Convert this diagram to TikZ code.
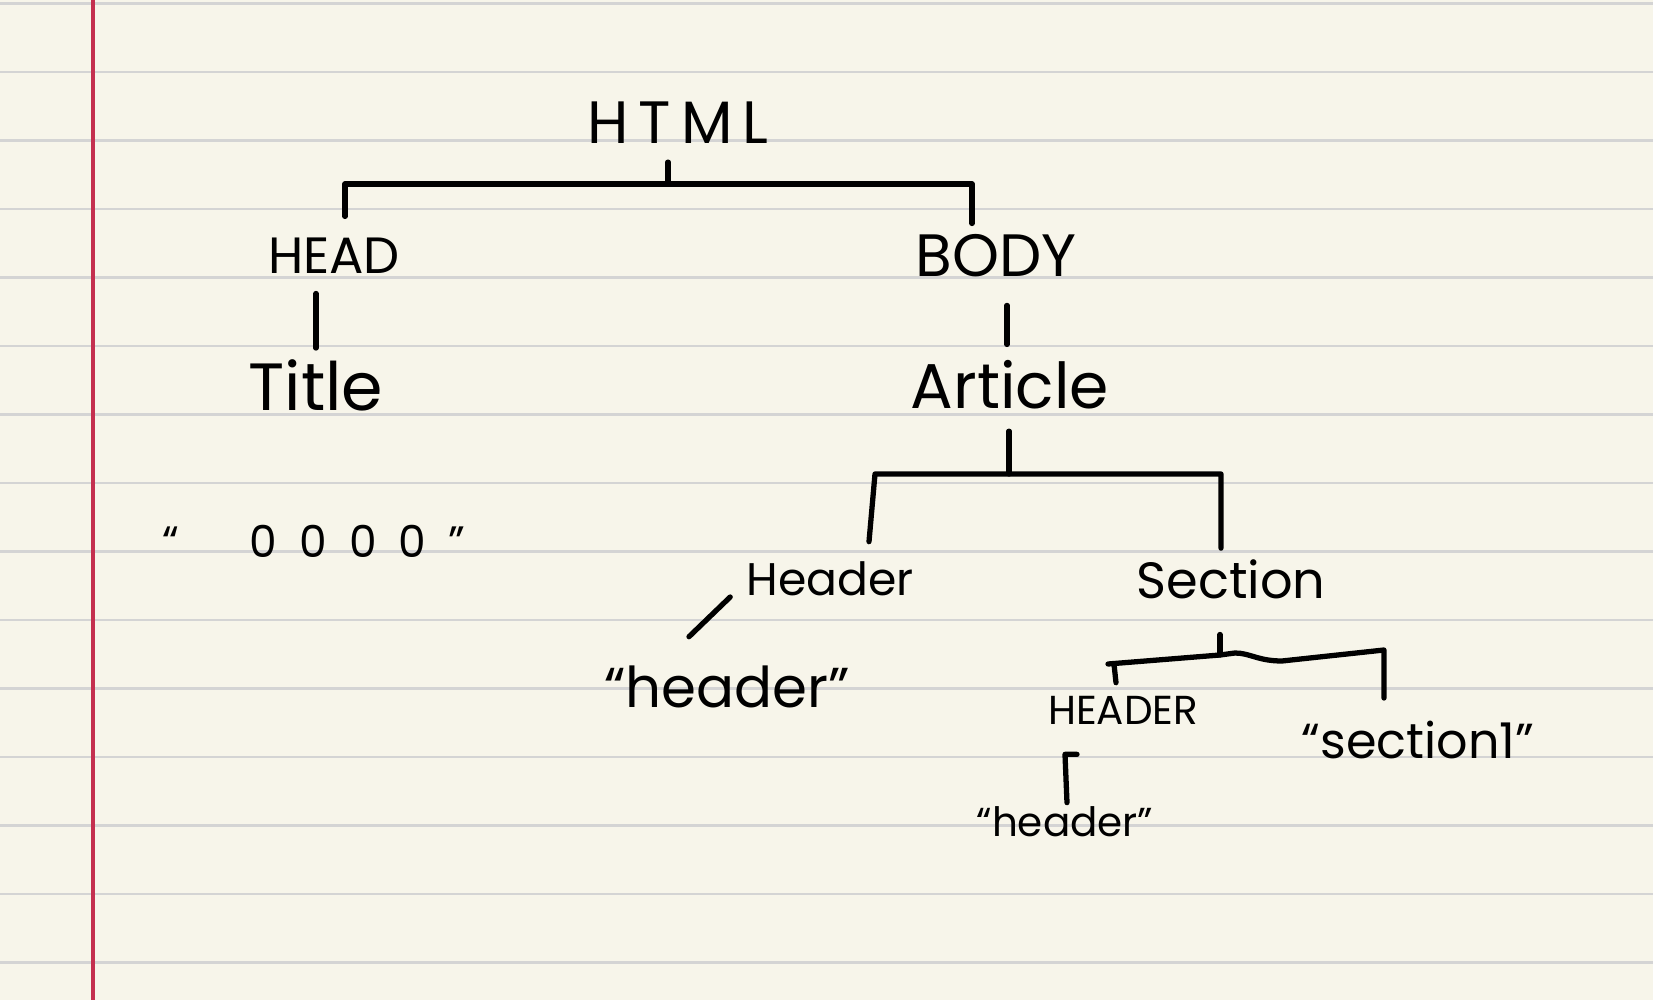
\documentclass[tikz,border=0pt]{standalone}
\usepackage{fontspec}
\setmainfont{Poppins}
\usetikzlibrary{calc}
\definecolor{paper}{HTML}{F7F5EA}
\definecolor{ruling}{HTML}{D4D4D4}
\definecolor{margin}{HTML}{C4304F}
\tikzset{
	tag/.style={font=\fontsize{#1}{#1}\selectfont, inner sep=1pt},
	tag/.default=16,
	link/.style={line width=1.5pt, line cap=round, line join=round},
}

\begin{document}
\begin{tikzpicture}[x=0.01cm,y=-0.01cm]
\useasboundingbox (0,0) rectangle (1653,1000);
%% paper
\fill[paper] (0,0) rectangle (1653,1000);
\foreach \k in {0,...,14}
	\draw[ruling, line width=0.85pt] (0,3.5+68.5*\k) -- (1653,3.5+68.5*\k);
\draw[margin, line width=1pt] (93,0) -- (93,1000);

%% tags
\node[tag=17] (html) at (678,123) {H\,T\,M\,L};
\node[tag=14.5] (head) at (334,256) {HEAD};
\node[tag=17] (body) at (996,256) {BODY};
\node[tag=19] (title) at (316,385) {Title};
\node[tag=18] (article) at (1010,385) {Article};
\node[tag=13] (header) at (830,579) {Header};
\node[tag=14.5] (section) at (1231,579) {Section};
\node[tag=11.5] (headtag) at (1123,710) {HEADER};

%% texts
\node[tag=12.5] (titleval) at (314,541) {“\hspace{1.6em}0\hspace{0.5em}0\hspace{0.5em}0\hspace{0.5em}0\hspace{0.5em}”};
\node[tag=16] (headerval) at (727,687) {“header”};
\node[tag=14] (sectionval) at (1418,740) {“section1”};
\node[tag=11.5] (headtagval) at (1065,822) {“header”};

%% bars
\coordinate (htmlbar) at (668,184);
\coordinate (htmlL) at (345,184);
\coordinate (htmlR) at (972,184);
\coordinate (articlebar) at (1009,474);
\coordinate (articleL) at (875,474);
\coordinate (articleR) at (1221,474);
\coordinate (sectionbar) at (1220,655);
\coordinate (sectionL) at (1114,664);
\coordinate (sectionR) at (1384,650);

\draw[link, shorten <=4pt] (html.south -| htmlbar) -- (htmlbar);
\draw[link, shorten <=5pt, shorten >=2pt] (htmlL |- head.north) -- (htmlL) -- (htmlR) -- (htmlR |- body.north);
\draw[link, shorten <=4.4pt, shorten >=2pt] (head.south -| title) -- (title.north);
\draw[link, shorten <=6.8pt, shorten >=3.4pt] (body.south -| 1007,0) -- (article.north -| 1007,0);

\draw[link, shorten <=5pt] (article.south -| articlebar) -- (articlebar);
\draw[link] ($(articleL |- header.north)+(-6,-16)$) -- (articleL) -- (articleR)
	-- ($(articleR |- section.north)+(0,-7)$);

\draw[link, shorten <=9pt] (section.south -| sectionbar) -- (sectionbar);
\draw[link] ($(sectionL |- headtag.north)+(2,-9)$) -- (sectionL) ++(-6,0) -- (sectionbar)
	-- (1235,653) .. controls (1250,653) and (1258,661) .. (1282,661) -- (sectionR) -- ++(0,48);

\draw[link] ($(header.west)+(-12,18)$) -- ($(headerval.north)+(-38,-25)$);
\draw[link] ($(headtag.south)+(-46,26)$) -- ($(headtag.south)+(-58,26)$)
	-- ($(headtag.south -| 1065,0)+(0,26)$) -- (headtagval.north -| 1067,0);
\end{tikzpicture}
\end{document}
